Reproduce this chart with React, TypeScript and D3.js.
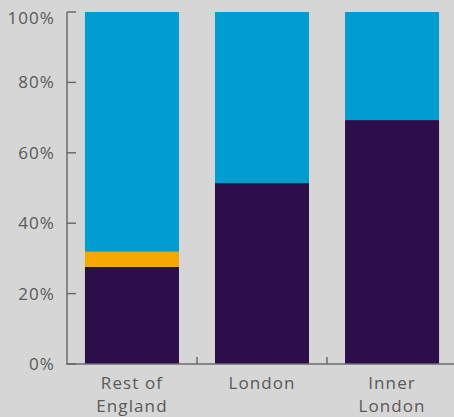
import React from "react";
import * as d3 from "d3";

const categories = ["Rest of England", "London", "Inner London"];
const categoryLabels = [["Rest of", "England"], ["London"], ["Inner", "London"]];
const seriesNames = ["Purple", "Orange", "Blue"];
const purpleValues = [27.6, 51.4, 69.3];
const orangeValues = [4.3, 0, 0];
const blueValues = [68.1, 48.6, 30.7];
const yTicks = [0, 20, 40, 60, 80, 100];
const colors = ["#2C0F4A", "#F5A800", "#009DD1"];

const W = 454;
const H = 417;

export default function App() {
  const x = d3.scaleBand<string>().domain(categories).range([67, 457]).paddingInner(0.277).paddingOuter(0.138);
  const band = d3.scaleBand<string>().domain(categories).range([67, 457]);
  const y = d3.scaleLinear().domain([0, 100]).range([364, 12]);

  const table = categories.map((c, i) => ({
    cat: c,
    Purple: purpleValues[i],
    Orange: orangeValues[i],
    Blue: blueValues[i],
  }));
  const stack = d3.stack<any>().keys(seriesNames)(table);

  const font = "'Open Sans', sans-serif";
  const textColor = "#595959";
  const axisColor = "#6b6b6b";
  const fs = 17;
  const ls = 1.1;

  return (
    <div style={{ position: "absolute", left: 0, top: 0 }}>
      <svg width={W} height={H} style={{ display: "block", background: "#D6D6D6" }}>
        <rect x={0} y={0} width={W} height={H} fill="#D6D6D6" />
        {stack.map((s, si) => (
          <g key={s.key} fill={colors[si]}>
            {s.map((d, i) =>
              d[1] - d[0] > 0 ? (
                <rect
                  key={i}
                  x={x(categories[i])}
                  y={y(d[1])}
                  width={x.bandwidth()}
                  height={y(d[0]) - y(d[1])}
                />
              ) : null
            )}
          </g>
        ))}
        {/* y axis */}
        <line x1={67} x2={67} y1={y(100)} y2={y(0) + 1} stroke={axisColor} strokeWidth={1.5} />
        {yTicks.map((t) => (
          <g key={t}>
            <line x1={67} x2={76} y1={y(t)} y2={y(t)} stroke={axisColor} strokeWidth={1.5} />
            <text
              x={55}
              y={Math.max(y(t), 18)}
              dy="0.35em"
              textAnchor="end"
              fontFamily={font}
              fontSize={fs}
              letterSpacing={ls}
              fill={textColor}
            >
              {t}%
            </text>
          </g>
        ))}
        {/* x axis */}
        <line x1={67} x2={W} y1={y(0)} y2={y(0)} stroke={axisColor} strokeWidth={1.5} />
        {categories.slice(1).map((c) => (
          <line
            key={c}
            x1={band(c)}
            x2={band(c)}
            y1={y(0) - 7}
            y2={y(0)}
            stroke={axisColor}
            strokeWidth={1.5}
          />
        ))}
        {categories.map((c, i) => (
          <text
            key={c}
            x={(x(c) as number) + x.bandwidth() / 2}
            y={389}
            textAnchor="middle"
            fontFamily={font}
            fontSize={fs}
            letterSpacing={ls}
            fill={textColor}
          >
            {categoryLabels[i].map((l, j) => (
              <tspan key={j} x={(x(c) as number) + x.bandwidth() / 2} dy={j === 0 ? 0 : 23}>
                {l}
              </tspan>
            ))}
          </text>
        ))}
      </svg>
    </div>
  );
}
